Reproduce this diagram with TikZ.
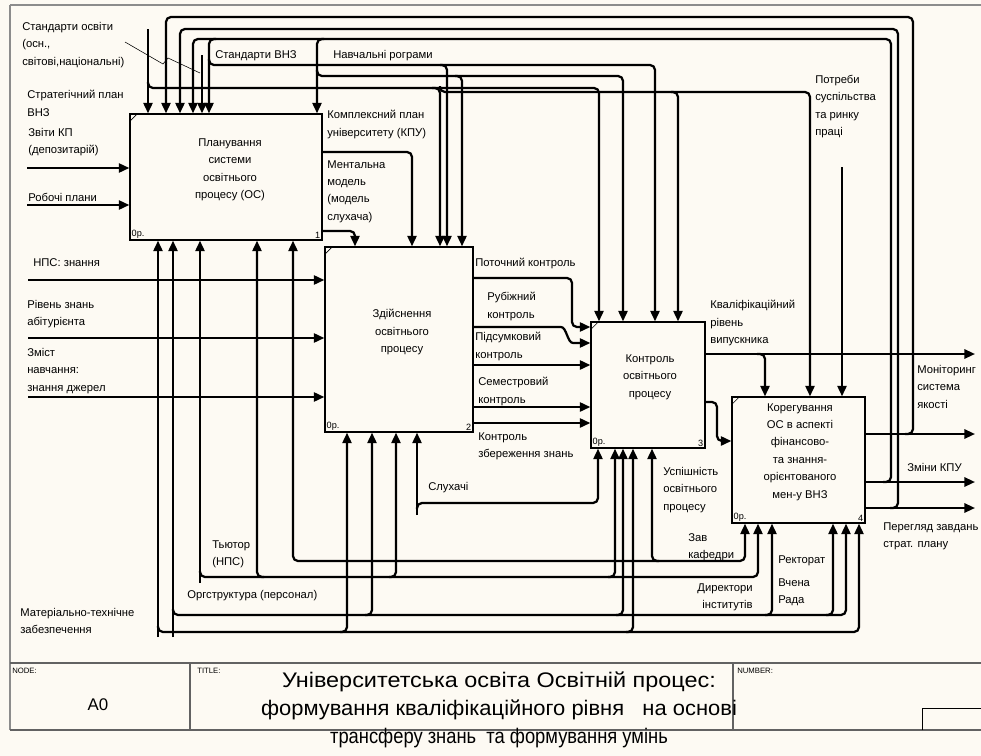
\documentclass[tikz,border=0pt]{standalone}
\usepackage{fontspec}
\usepackage{graphicx}
\setmainfont{Liberation Sans}
\usetikzlibrary{positioning,calc,arrows.meta}

\definecolor{paper}{RGB}{253,250,243}
\definecolor{rim}{RGB}{140,140,140}
\newcommand\lblfont{\fontsize{8}{12.4}\selectfont}
\newcommand\tagfont{\fontsize{6.5}{8}\selectfont}
\newcommand\ttlfont{\fontsize{15}{20}\selectfont}

\tikzset{
  flow/.style={line width=1.6pt, rounded corners=3.5pt},
  arr/.style={flow, -{Triangle[length=7.5pt,width=6.5pt]}},
  func/.style={draw, line width=0.9pt, fill=paper, inner sep=0pt},
  ftext/.style={align=center, inner sep=0pt, font=\lblfont},
  lbl/.style={anchor=north west, align=left, inner sep=0pt, font=\lblfont},
  tag/.style={inner sep=1.5pt, font=\tagfont},
  ramp/.style={line width=0.4pt}
}

\begin{document}
\begin{tikzpicture}[x=0.025cm, y=-0.025cm]
\fill[paper] (0,0) rectangle (981,756);
\useasboundingbox (0,0) rectangle (981,756);

% frame and title block
\draw[rim, line width=1.2pt] (10,5) -- (981,5);
\draw[rim, line width=1pt] (10,5) -- (10,730);
\draw[rim!70!black, line width=0.9pt] (10,663) -- (981,663) (10,730) -- (981,730)
  (190,663) -- (190,730) (733,663) -- (733,730);
\draw[line width=0.6pt] (922,730) |- (981,708);
\node[anchor=north west, inner sep=0pt, font=\fontsize{5.5}{6}\selectfont] (tNode) at (12,668) {NODE:};
\node[anchor=north west, inner sep=0pt, font=\fontsize{5.5}{6}\selectfont] (tTitle) at (197,668) {TITLE:};
\node[anchor=north west, inner sep=0pt, font=\fontsize{5.5}{6}\selectfont] (tNum) at (737,668) {NUMBER:};
\node[font=\fontsize{12}{14}\selectfont] (tA0) at (98,705) {A0};
\node[align=center, font=\ttlfont] (ttl) at (499,710)
  {\scalebox{1.11}[1]{Університетська освіта Освітній процес:}\\
   \scalebox{1.04}[1]{формування кваліфікаційного рівня \ \ на основі}\\
   \scalebox{0.87}[1]{трансферу знань \ та формування умінь}};

% activity boxes
\node[func, minimum width=4.8cm, minimum height=3.15cm] (b1) at (226,177) {};
\node[func, minimum width=3.7cm, minimum height=4.625cm] (b2) at (399,339.5) {};
\node[func, minimum width=2.85cm, minimum height=3.15cm] (b3) at (648,385) {};
\node[func, minimum width=3.325cm, minimum height=3.15cm] (b4) at (798.5,460) {};

\node[ftext] (b1t) at (230,170) {Планування\\системи\\освітнього\\процесу (ОС)};
\node[ftext] (b2t) at (402,332) {Здійснення\\освітнього\\процесу};
\node[ftext] (b3t) at (650,377) {Контроль\\освітнього\\процесу};
\node[ftext] (b4t) at (800,452) {Корегування\\ОС в аспекті\\фінансово-\\та знання-\\орієнтованого\\мен-у ВНЗ};

\node[tag, anchor=south west] (b1o) at (b1.south west) {0р.};
\node[tag, anchor=south east] (b1n) at (b1.south east) {1};
\node[tag, anchor=south west] (b2o) at (b2.south west) {0р.};
\node[tag, anchor=south east] (b2n) at (b2.south east) {2};
\node[tag, anchor=south west] (b3o) at (b3.south west) {0р.};
\node[tag, anchor=south east] (b3n) at (b3.south east) {3};
\node[tag, anchor=south west] (b4o) at (b4.south west) {0р.};
\node[tag, anchor=south east] (b4n) at (b4.south east) {4};
\draw[ramp] ([xshift=1pt,yshift=-5pt]b1.north west) -- ([xshift=5pt,yshift=-1pt]b1.north west);
\draw[ramp] ([xshift=1pt,yshift=-5pt]b2.north west) -- ([xshift=5pt,yshift=-1pt]b2.north west);
\draw[ramp] ([xshift=1pt,yshift=-5pt]b3.north west) -- ([xshift=5pt,yshift=-1pt]b3.north west);
\draw[ramp] ([xshift=1pt,yshift=-5pt]b4.north west) -- ([xshift=5pt,yshift=-1pt]b4.north west);

% inputs
\coordinate (inZvity) at (27,168);
\coordinate (inPlany) at (27,205);
\coordinate (inNps) at (28,280);
\coordinate (inRiven) at (28,338);
\coordinate (inZmist) at (28,397);
\draw[arr] (inZvity) -- (inZvity -| b1.west);
\draw[arr] (inPlany) -- (inPlany -| b1.west);
\draw[arr] (inNps) -- (inNps -| b2.west);
\draw[arr] (inRiven) -- (inRiven -| b2.west);
\draw[arr] (inZmist) -- (inZmist -| b2.west);

% controls from the top
\coordinate (cPlan) at (148,29);
\coordinate (cStand) at (202,55);
\coordinate (cPotr) at (842,167);
\draw[arr] (cPlan) -- (cPlan |- b1.north);
\draw[arr] (cStand) -- (cStand |- b1.north);
\draw[arr] (cPotr) -- (cPotr |- b4.north);
\draw[arr] (148,82) -- (148,88) -- (599,88) -- (599,0 |- b3.north);
\draw[arr] (432,88) -- (440,88) -- (440,0 |- b2.north);
\draw[arr] (440,86) -- (440,92) -- (810,92) -- (810,0 |- b4.north);
\draw[arr] (671,92) -- (678,92) -- (678,0 |- b3.north);

% feedback from box 4
\coordinate (outMon) at (975,434);
\coordinate (outZminy) at (975,482);
\coordinate (outPere) at (975,508);
\draw[arr] (outMon -| b4.east) -- (outMon);
\draw[arr] (outZminy -| b4.east) -- (outZminy);
\draw[arr] (outPere -| b4.east) -- (outPere);
\draw[arr] (905,434) -- (913,434) -- (913,17) -- (166,17) -- (166,0 |- b1.north);
\draw[arr] (890,508) -- (898,508) -- (898,29) -- (180,29) -- (180,0 |- b1.north);
\draw[arr] (883,482) -- (891,482) -- (891,39) -- (193,39) -- (193,0 |- b1.north);
\draw[arr] (216,39) -- (209,39) -- (209,0 |- b1.north);
\draw[arr] (324,39) -- (317,39) -- (317,0 |- b1.north);
\draw[arr] (317,70) -- (317,76) -- (623,76) -- (623,0 |- b3.north);
\draw[arr] (455,76) -- (462,76) -- (462,0 |- b2.north);
\draw[arr] (209,59) -- (209,65) -- (655,65) -- (655,0 |- b3.north);
\draw[arr] (440,65) -- (447,65) -- (447,0 |- b2.north);

% box 1 outputs
\draw[arr] (b1.east |- 0,152) -- (412,152) -- (412,0 |- b2.north);
\draw[arr] (b1.east |- 0,231) -- (355,231) -- (355,0 |- b2.north);

% box 2 outputs
\draw[arr] (b2.east |- 0,278) -- (572,278) -- (572,327) -- (b3.west |- 0,327);
\draw[arr] (b2.east |- 0,327) -- (556,327) to[out=0,in=180] (578,343) -- (b3.west |- 0,343);
\draw[arr] (b2.east |- 0,365) -- (b3.west |- 0,365);
\draw[arr] (b2.east |- 0,407) -- (b3.west |- 0,407);
\draw[arr] (b2.east |- 0,423) -- (b3.west |- 0,423);

% box 3 outputs
\coordinate (outKval) at (975,354);
\draw[arr] (outKval -| b3.east) -- (outKval);
\draw[arr] (757,354) -- (765,354) -- (765,0 |- b4.north);
\draw[arr] (b3.east |- 0,402) -- (717,402) -- (717,441) -- (b4.west |- 0,441);

% mechanisms
\coordinate (mMat) at (158,637);
\coordinate (mOrg) at (173,637);
\coordinate (mTut) at (200,583);
\coordinate (mSluh) at (417,515);
\draw[arr] (mMat) -- (mMat |- b1.south);
\draw[arr] (158,626) -- (158,632) -- (859,632) -- (859,0 |- b4.south);
\draw[arr] (340,632) -- (347,632) -- (347,0 |- b2.south);
\draw[arr] (626,632) -- (633,632) -- (633,0 |- b3.south);
\draw[arr] (mOrg) -- (mOrg |- b1.south);
\draw[arr] (173,609) -- (173,615) -- (846,615) -- (846,0 |- b4.south);
\draw[arr] (365,615) -- (372,615) -- (372,0 |- b2.south);
\draw[arr] (616,615) -- (623,615) -- (623,0 |- b3.south);
\draw[arr] (765,615) -- (772,615) -- (772,0 |- b4.south);
\draw[arr] (826,615) -- (833,615) -- (833,0 |- b4.south);
\draw[arr] (mTut) -- (mTut |- b1.south);
\draw[arr] (200,571) -- (200,577) -- (758,577) -- (758,0 |- b4.south);
\draw[arr] (264,577) -- (257,577) -- (257,0 |- b1.south);
\draw[arr] (389,577) -- (396,577) -- (396,0 |- b2.south);
\draw[arr] (608,577) -- (615,577) -- (615,0 |- b3.south);
\draw[flow, {Triangle[length=7.5pt,width=6.5pt]}-{Triangle[length=7.5pt,width=6.5pt]}]
  (293,0 |- b1.south) -- (293,561) -- (745,561) -- (745,0 |- b4.south);
\draw[arr] (659,561) -- (652,561) -- (652,0 |- b3.south);
\draw[arr] (mSluh) -- (mSluh |- b2.south);
\draw[arr] (417,509) -- (417,503) -- (598,503) -- (598,0 |- b3.south);

% arrow labels
\node[lbl] (lStOsv) at (22,22) {Стандарти освіти\\(осн.,\\світові,національні)};
\draw[line width=0.4pt] (125,42) -- (163,64) -- (168,58) -- (200,73);
\node[lbl] (lStPlan) at (27,90) {Стратегічний план\\ВНЗ};
\node[lbl] (lZvity) at (28,128) {Звіти КП\\(депозитарій)};
\node[lbl] (lPlany) at (28,193) {Робочі плани};
\node[lbl] (lNps) at (33,258) {НПС: знання};
\node[lbl] (lRiven) at (27,300) {Рівень знань\\абітурієнта};
\node[lbl] (lZmist) at (27,348) {Зміст\\навчання:\\знання джерел};
\node[lbl] (lStVnz) at (215,50) {Стандарти ВНЗ};
\node[lbl] (lNavch) at (333,50) {Навчальні рограми};
\node[lbl] (lKpu) at (327,110) {Комплексний план\\університету (КПУ)};
\node[lbl] (lMent) at (327,160) {Ментальна\\модель\\(модель\\слухача)};
\node[lbl] (lPotr) at (815,75) {Потреби\\суспільства\\та ринку\\праці};
\node[lbl] (lPotoch) at (475,258) {Поточний контроль};
\node[lbl] (lRub) at (487,292) {Рубіжний\\контроль};
\node[lbl] (lPids) at (475,332) {Підсумковий\\контроль};
\node[lbl] (lSem) at (478,377) {Семестровий\\контроль};
\node[lbl] (lZber) at (478,432) {Контроль\\збереження знань};
\node[lbl] (lKval) at (710,300) {Кваліфікаційний\\рівень\\випускника};
\node[lbl] (lUsp) at (663,467) {Успішність\\освітнього\\процесу};
\node[lbl] (lSluh) at (428,482) {Слухачі};
\node[lbl] (lTut) at (212,540) {Тьютор\\(НПС)};
\node[lbl] (lOrg) at (187,590) {Оргструктура (персонал)};
\node[lbl] (lMat) at (20,608) {Матеріально-технічне\\забезпечення};
\node[lbl] (lZav) at (688,533) {Зав\\кафедри};
\node[lbl, anchor=north east, align=right] (lDyr) at (753,583) {Директори\\інститутів};
\node[lbl] (lRekt) at (778,555) {Ректорат};
\node[lbl] (lVch) at (778,578) {Вчена\\Рада};
\node[lbl] (lMon) at (917,365) {Моніторинг\\система\\якості};
\node[lbl] (lZminy) at (907,463) {Зміни КПУ};
\node[lbl] (lPere) at (883,522) {Перегляд завдань\\страт. плану};
\end{tikzpicture}
\end{document}
